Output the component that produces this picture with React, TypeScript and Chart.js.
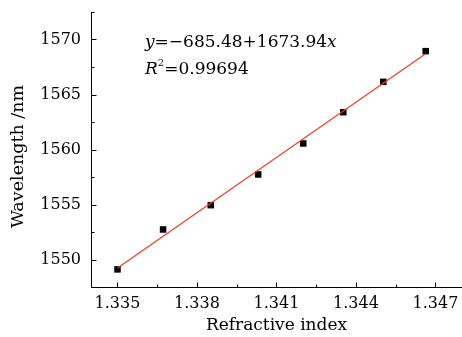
import React, { useEffect, useRef } from "react";
import { Chart, registerables } from "chart.js";

Chart.register(...registerables);

const refractiveIndex = [1.335, 1.33672, 1.33852, 1.34031, 1.34201, 1.34352, 1.34503, 1.34663];
const wavelength = [1549.1, 1552.73, 1554.94, 1557.73, 1560.55, 1563.39, 1566.15, 1568.94];
const fitX = [1.335, 1.3466];
const fitY = [1549.23, 1568.66];
const xTicks = [1.335, 1.338, 1.341, 1.344, 1.347];
const xTickLabels = ["1.335", "1.338", "1.341", "1.344", "1.347"];
const yTicks = [1550, 1555, 1560, 1565, 1570];
const yTickLabels = ["1550", "1555", "1560", "1565", "1570"];
const xMinor = [1.3365, 1.3395, 1.3425, 1.3455];
const yMinor = [1547.5, 1552.5, 1557.5, 1562.5, 1567.5, 1572.5];
const eqLine1 = ["y", "=−685.48+1673.94", "x"];
const eqLine2 = ["R", "2", "=0.99694"];
const yTitle = "Wavelength /nm";
const xTitle = "Refractive index";

const FONT = "'DejaVu Serif', serif";

const innerTicks = {
  id: "innerTicks",
  afterDraw(chart: any) {
    const { ctx, chartArea, scales } = chart;
    const xs = scales.x;
    const ys = scales.y;
    ctx.save();
    ctx.strokeStyle = "#000";
    ctx.lineWidth = 1;
    ctx.beginPath();
    const b = Math.round(chartArea.bottom) + 0.5;
    const l = Math.round(chartArea.left) + 0.5;
    xTicks.forEach((v) => {
      const p = Math.round(xs.getPixelForValue(v)) + 0.5;
      ctx.moveTo(p, b);
      ctx.lineTo(p, b - 5);
    });
    xMinor.forEach((v) => {
      const p = Math.round(xs.getPixelForValue(v)) + 0.5;
      ctx.moveTo(p, b);
      ctx.lineTo(p, b - 3);
    });
    yTicks.forEach((v) => {
      const p = Math.round(ys.getPixelForValue(v)) + 0.5;
      ctx.moveTo(l, p);
      ctx.lineTo(l + 5, p);
    });
    yMinor.forEach((v) => {
      const p = Math.round(ys.getPixelForValue(v)) + 0.5;
      ctx.moveTo(l, p);
      ctx.lineTo(l + 3, p);
    });
    ctx.stroke();

    // y-axis title
    ctx.fillStyle = "#000";
    ctx.save();
    ctx.translate(18, (chartArea.top + chartArea.bottom) / 2 + 7);
    ctx.rotate(-Math.PI / 2);
    ctx.font = `17.5px ${FONT}`;
    ctx.textAlign = "center";
    ctx.textBaseline = "middle";
    ctx.fillText(yTitle, 0, 0);
    ctx.restore();

    // equation text
    ctx.textBaseline = "alphabetic";
    let x = chartArea.left + 54;
    let y = chartArea.top + 35;
    ctx.font = `italic 17px ${FONT}`;
    ctx.fillText(eqLine1[0], x, y);
    x += ctx.measureText(eqLine1[0]).width;
    ctx.font = `17px ${FONT}`;
    ctx.fillText(eqLine1[1], x, y);
    x += ctx.measureText(eqLine1[1]).width;
    ctx.font = `italic 17px ${FONT}`;
    ctx.fillText(eqLine1[2], x, y);

    x = chartArea.left + 54;
    y = chartArea.top + 62;
    ctx.font = `italic 17px ${FONT}`;
    ctx.fillText(eqLine2[0], x, y);
    x += ctx.measureText(eqLine2[0]).width;
    ctx.font = `10px ${FONT}`;
    ctx.fillText(eqLine2[1], x, y - 8);
    x += ctx.measureText(eqLine2[1]).width;
    ctx.font = `17px ${FONT}`;
    ctx.fillText(eqLine2[2], x, y);
    ctx.restore();
  },
};

export default function App() {
  const ref = useRef<HTMLCanvasElement>(null);
  useEffect(() => {
    document.body.style.margin = "0";
    const chart = new Chart(ref.current as HTMLCanvasElement, {
      type: "scatter",
      data: {
        datasets: [
          {
            type: "line",
            data: fitX.map((v, i) => ({ x: v, y: fitY[i] })),
            borderColor: "#f23a2a",
            borderWidth: 1.2,
            pointRadius: 0,
            fill: false,
          },
          {
            data: refractiveIndex.map((v, i) => ({ x: v, y: wavelength[i] })),
            backgroundColor: "#000",
            borderWidth: 0,
            pointStyle: "rect",
            pointRadius: 4.6,
          },
        ],
      },
      plugins: [innerTicks],
      options: {
        animation: false,
        responsive: false,
        layout: { autoPadding: false, padding: { top: 12, right: 0, left: 0, bottom: 0 } },
        plugins: { legend: { display: false }, tooltip: { enabled: false } },
        scales: {
          x: {
            type: "linear",
            min: 1.334,
            max: 1.348,
            afterBuildTicks: (axis: any) => {
              axis.ticks = xTicks.map((v) => ({ value: v }));
            },
            afterFit: (axis: any) => {
              axis.height = 50;
              axis.paddingLeft = 0;
              axis.paddingRight = 0;
            },
            ticks: {
              callback: (v: any) => xTickLabels[xTicks.indexOf(v)] ?? "",
              color: "#000",
              font: { family: FONT, size: 16 },
              padding: 7,
              maxRotation: 0,
            },
            grid: { display: true, drawOnChartArea: false, drawTicks: false },
            border: { display: true, color: "#000", width: 1 },
            title: {
              display: true,
              text: xTitle,
              color: "#000",
              font: { family: FONT, size: 17 },
              padding: { top: 0, bottom: 1 },
            },
          },
          y: {
            type: "linear",
            min: 1547.5,
            max: 1572.5,
            afterBuildTicks: (axis: any) => {
              axis.ticks = yTicks.map((v) => ({ value: v }));
            },
            afterFit: (axis: any) => {
              axis.width = 91;
              axis.paddingTop = 0;
              axis.paddingBottom = 0;
            },
            ticks: {
              callback: (v: any) => yTickLabels[yTicks.indexOf(v)] ?? "",
              color: "#000",
              font: { family: FONT, size: 16 },
              padding: 10,
            },
            grid: { display: true, drawOnChartArea: false, drawTicks: false },
            border: { display: true, color: "#000", width: 1 },
            title: { display: false },
          },
        },
      },
    } as any);
    return () => chart.destroy();
  }, []);
  return <canvas ref={ref} width={462} height={337} style={{ display: "block" }} />;
}
